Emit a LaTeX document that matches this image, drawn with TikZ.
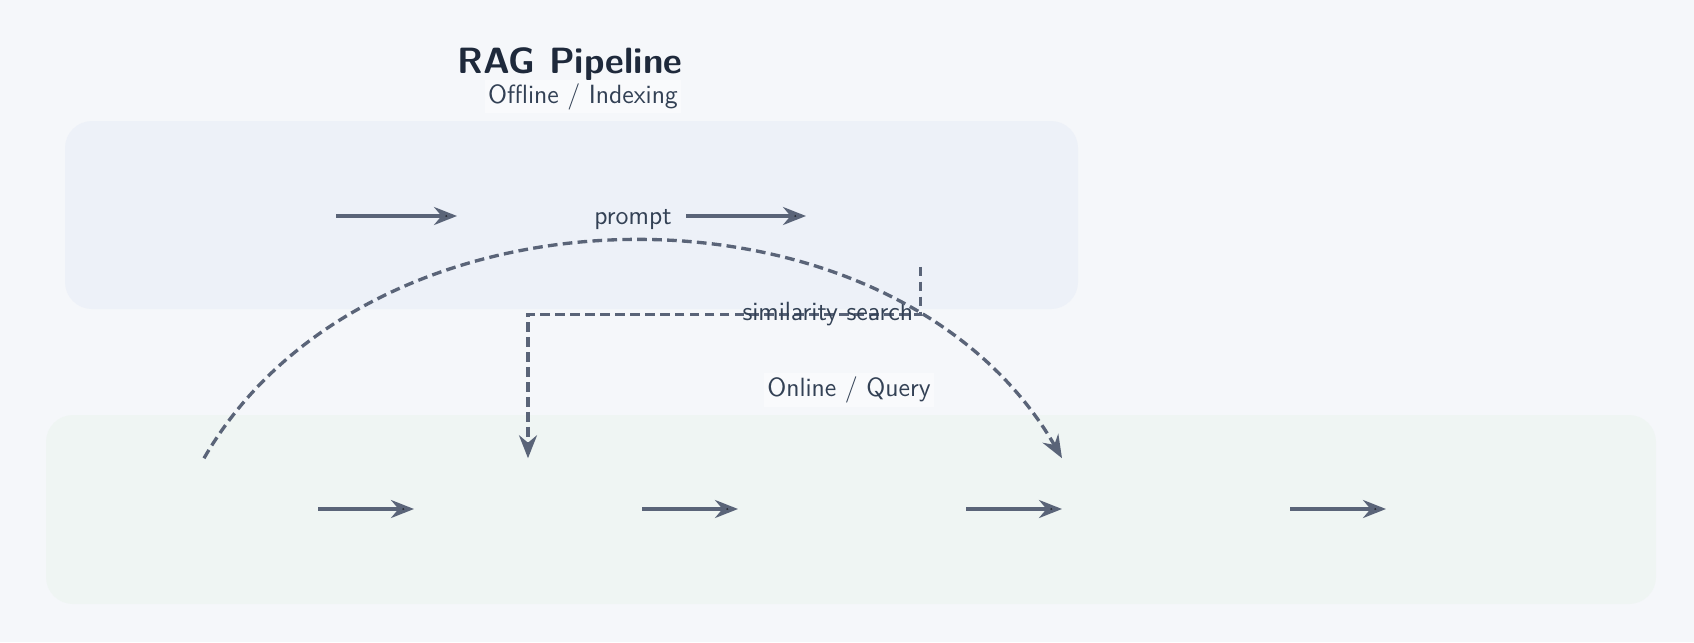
\documentclass[tikz,border=0pt]{standalone}
\usepackage{tikz}
\usetikzlibrary{arrows.meta}
\definecolor{pagebg}{HTML}{F5F7FA}
\definecolor{offfill}{HTML}{EDF1F8}
\definecolor{onfill}{HTML}{EFF5F3}
\definecolor{labelbg}{HTML}{F9FAFC}
\definecolor{edgecol}{HTML}{5A6478}
\definecolor{textcol}{HTML}{334155}
\definecolor{titlecol}{HTML}{1E293B}
\newcommand{\lbl}{\fontsize{15}{18}\selectfont}

\begin{document}
\begin{tikzpicture}[font=\sffamily,
	stage/.style={minimum width=4.58cm,minimum height=2.03cm,inner sep=0pt,outer sep=0pt},
	qstage/.style={stage,minimum width=4.56cm},
	flow/.style={draw=edgecol,line width=1.9pt,-{Stealth[length=0.46cm,width=0.36cm,inset=0.15cm]}},
	dashflow/.style={flow,dash pattern=on 5.5pt off 3pt},
	lane/.style={rounded corners=0.54cm},
	txt/.style={text=textcol,font=\sffamily\lbl}]
	\fill[pagebg](0,0)rectangle(33.88,-12.84);
	\fill[offfill,lane](1.30,-2.42)rectangle(21.56,-6.18);
	\fill[onfill,lane](0.92,-8.30)rectangle(33.12,-12.08);
	
	\node[anchor=base,text=titlecol,font=\sffamily\bfseries\fontsize{20.8}{25}\selectfont] at (11.40,-1.47)(title){RAG Pipeline};
	\node[txt,anchor=base,fill=labelbg,inner sep=2pt] at (11.66,-2.06)(off){Offline / Indexing};
	\node[txt,anchor=base,fill=labelbg,inner sep=2pt] at (16.98,-7.93)(on){Online / Query};
	
	\node[stage] at (4.43,-4.32)(o1){};
	\node[stage] at (11.43,-4.32)(o2){};
	\node[stage] at (18.41,-4.32)(o3){};
	\path[flow](o1)edge(o2)(o2)edge(o3);
	
	\node[qstage] at (4.08,-10.18)(q1){};
	\node[qstage] at (10.56,-10.18)(q2){};
	\node[qstage] at (17.04,-10.18)(q3){};
	\node[qstage] at (23.52,-10.18)(q4){};
	\node[qstage] at (30.00,-10.18)(q5){};
	\path[flow](q1)edge(q2)(q2)edge(q3)(q3)edge(q4)(q4)edge(q5);
	
	\draw[dashflow](o3.south)--++(0,-0.955)-|node[txt,pos=0,anchor=east]{similarity search}(q2.north);
	\draw[dashflow](q1.north)to[bend left=60]node[txt,above,yshift=2pt]{prompt}(q4.north west);
\end{tikzpicture}
\end{document}
